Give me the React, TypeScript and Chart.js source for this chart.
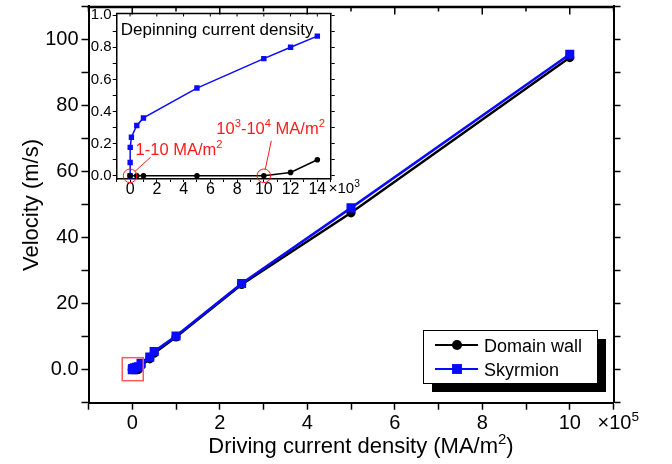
import { useEffect, useRef } from "react";
import { Chart, registerables } from "chart.js";
Chart.register(...registerables);

// ---- Main chart data (x in units of 10^5 MA/m^2, y in m/s)
const mainDwX = [0, 0.05, 0.1, 0.12, 0.14, 0.2, 0.4, 0.5, 1, 2.5, 5, 10];
const mainDwY = [0, 0, 0, 0.02, 0.1, 1.2, 3.3, 5.0, 9.9, 25.8, 47.5, 94.5];
const mainSkX = [0, 0.01, 0.05, 0.1, 0.14, 0.2, 0.4, 0.5, 1, 2.5, 5, 10];
const mainSkY = [0, 0.36, 0.55, 0.73, 0.87, 1.9, 3.8, 5.5, 10.2, 26.1, 49, 95.5];

// ---- Inset data (x in units of 10^3 MA/m^2, y in m/s)
const insetDwX = [0.001, 0.5, 1, 5, 10, 12, 14];
const insetDwY = [0, 0, 0, 0, 0, 0.021, 0.1];
const insetSkX = [0.001, 0.005, 0.01, 0.1, 0.5, 1, 5, 10, 12, 14];
const insetSkY = [0, 0.083, 0.177, 0.24, 0.313, 0.36, 0.546, 0.729, 0.8, 0.869];

const seriesNames = ["Domain wall", "Skyrmion"];
const mainXTickLabels = ["0", "2", "4", "6", "8", "10"];
const mainYTickLabels = ["0.0", "20", "40", "60", "80", "100"];
const insetXTickLabels = ["0", "2", "4", "6", "8", "10", "12", "14"];
const insetYTickLabels = ["0.0", "0.2", "0.4", "0.6", "0.8", "1.0"];

const FONT = "'Liberation Sans', Arial, Helvetica, sans-serif";
const BLUE = "#0a0aff";
const RED = "#ff1a1a";

type Part = { t: string; sup?: boolean };
function drawRich(ctx: CanvasRenderingContext2D, parts: Part[], x: number, y: number, size: number, align: "left" | "center", color: string) {
  ctx.save();
  ctx.fillStyle = color;
  ctx.textBaseline = "alphabetic";
  ctx.textAlign = "left";
  const widths = parts.map((p) => {
    ctx.font = `${p.sup ? size * 0.68 : size}px ${FONT}`;
    return ctx.measureText(p.t).width;
  });
  const total = widths.reduce((a, b) => a + b, 0);
  let cx = align === "center" ? x - total / 2 : x;
  parts.forEach((p, i) => {
    ctx.font = `${p.sup ? size * 0.68 : size}px ${FONT}`;
    ctx.fillText(p.t, cx, p.sup ? y - size * 0.4 : y);
    cx += widths[i];
  });
  ctx.restore();
}

function pts(xs: number[], ys: number[]) {
  return xs.map((x, i) => ({ x, y: ys[i] }));
}

const near = (v: number, step: number) => Math.abs(v / step - Math.round(v / step)) < 1e-6;

function fixV(width: number) {
  return (s: any) => {
    s.width = width;
    s.paddingTop = 0;
    s.paddingBottom = 0;
  };
}
function fixH(height: number) {
  return (s: any) => {
    s.height = height;
    s.paddingLeft = 0;
    s.paddingRight = 0;
  };
}

export default function App() {
  const mainRef = useRef<HTMLCanvasElement>(null);
  const insetRef = useRef<HTMLCanvasElement>(null);

  useEffect(() => {
    document.body.style.margin = "0";
    document.body.style.overflow = "hidden";
    Chart.defaults.font.family = FONT;
    Chart.defaults.color = "#000";

    const mainDecor = {
      id: "mainDecor",
      afterDatasetsDraw(chart: any) {
        const { ctx, scales } = chart;
        const cx = scales.x.getPixelForValue(0);
        const cy = scales.y.getPixelForValue(0);
        ctx.save();
        ctx.strokeStyle = "#ff5a5a";
        ctx.lineWidth = 1.5;
        ctx.strokeRect(cx - 10, cy - 12, 21, 23);
        ctx.restore();
      },
      afterDraw(chart: any) {
        const { ctx, chartArea: a, scales } = chart;
        const xs = scales.x;
        ctx.save();
        ctx.strokeStyle = "#000";
        ctx.lineWidth = 2.5;
        ctx.beginPath();
        ctx.moveTo(a.left - 1, a.top + 0.5);
        ctx.lineTo(a.right + 1, a.top + 0.5);
        ctx.stroke();
        ctx.lineWidth = 1.5;
        ctx.beginPath();
        xs.ticks.forEach((t: any) => {
          const px = xs.getPixelForValue(t.value);
          const len = near(t.value, 2) ? 8 : 5;
          ctx.moveTo(px, a.top);
          ctx.lineTo(px, a.top + len);
        });
        ctx.stroke();

        // axis titles
        drawRich(ctx, [{ t: "Driving current density (MA/m" }, { t: "2", sup: true }, { t: ")" }], 361, 453, 22, "center", "#000");
        ctx.save();
        ctx.translate(37.5, 205);
        ctx.rotate(-Math.PI / 2);
        drawRich(ctx, [{ t: "Velocity (m/s)" }], 0, 0, 22, "center", "#000");
        ctx.restore();
        // x10^5
        drawRich(ctx, [{ t: "\u00d710" }, { t: "5", sup: true }], a.right - 16, 429, 20, "left", "#000");

        // legend
        const lx = 423, ly = 330, lw = 174, lh = 53;
        ctx.fillStyle = "#000";
        ctx.fillRect(lx + 9, ly + 9, lw, lh);
        ctx.fillStyle = "#fff";
        ctx.fillRect(lx, ly, lw, lh);
        ctx.strokeStyle = "#000";
        ctx.lineWidth = 1;
        ctx.strokeRect(lx + 0.5, ly + 0.5, lw, lh);
        const rows = [
          { y: ly + 15, color: "#000", style: "circle", r: 5 },
          { y: ly + 39, color: BLUE, style: "rect", r: 7 },
        ];
        rows.forEach((r, i) => {
          ctx.strokeStyle = r.color;
          ctx.lineWidth = 1.8;
          ctx.beginPath();
          ctx.moveTo(lx + 12, r.y);
          ctx.lineTo(lx + 55, r.y);
          ctx.stroke();
          ctx.fillStyle = r.color;
          if (r.style === "circle") {
            ctx.beginPath();
            ctx.arc(lx + 34, r.y, r.r, 0, Math.PI * 2);
            ctx.fill();
          } else {
            const s = r.r * Math.SQRT1_2;
            ctx.fillRect(lx + 34 - s, r.y - s, 2 * s, 2 * s);
          }
          drawRich(ctx, [{ t: seriesNames[i] }], lx + 61, r.y + 6.5, 18, "left", "#000");
        });
        ctx.restore();
      },
    };

    const mainChart = new Chart(mainRef.current!, {
      type: "line",
      data: {
        datasets: [
          {
            label: seriesNames[0],
            data: pts(mainDwX, mainDwY),
            borderColor: "#000",
            backgroundColor: "#000",
            borderWidth: 2.5,
            pointStyle: "circle",
            pointRadius: 4.6,
            pointBorderWidth: 0,
            order: 1,
          },
          {
            label: seriesNames[1],
            data: pts(mainSkX, mainSkY),
            borderColor: BLUE,
            backgroundColor: BLUE,
            borderWidth: 2.5,
            pointStyle: "rect",
            pointRadius: 6.4,
            pointBorderWidth: 0,
            order: 0,
          },
        ],
      },
      options: {
        responsive: false,
        animation: false,
        events: [],
        layout: { padding: 0 },
        plugins: { legend: { display: false }, tooltip: { enabled: false } },
        scales: {
          x: {
            type: "linear",
            position: "bottom",
            min: -1,
            max: 11,
            border: { color: "#000", width: 2 },
            grid: { drawOnChartArea: false, tickLength: 7, tickWidth: 1.5, tickColor: "#000" },
            ticks: {
              stepSize: 1,
              autoSkip: false,
              maxRotation: 0,
              padding: 2,
              font: { size: 20 },
              callback: (v: any) => {
                const i = mainXTickLabels.indexOf(String(v));
                return i >= 0 ? mainXTickLabels[i] : "";
              },
            },
            afterFit: fixH(61.3),
          },
          y: {
            type: "linear",
            position: "left",
            min: -10,
            max: 110,
            border: { color: "#000", width: 2 },
            grid: { drawOnChartArea: false, tickLength: 7, tickWidth: 1.5, tickColor: "#000" },
            ticks: {
              stepSize: 10,
              autoSkip: false,
              padding: 3,
              font: { size: 20 },
              callback: (v: any) => {
                if (v < 0 || v > 100 || !near(v, 20)) return "";
                return mainYTickLabels[Math.round(v / 20)];
              },
            },
            afterFit: fixV(88.5),
          },
          y2: {
            type: "linear",
            position: "right",
            min: -10,
            max: 110,
            border: { color: "#000", width: 2 },
            grid: { drawOnChartArea: false, tickLength: 7, tickWidth: 1.5, tickColor: "#000" },
            ticks: { stepSize: 10, autoSkip: false, callback: () => "" },
            afterFit: fixV(672 - 613.5),
          },
        },
      },
      plugins: [mainDecor],
    } as any);

    const insetDecor = {
      id: "insetDecor",
      afterDraw(chart: any) {
        const { ctx, chartArea: a, scales } = chart;
        const xs = scales.x;
        const ys = scales.y;
        ctx.save();
        ctx.strokeStyle = "#000";
        ctx.lineWidth = 1.5;
        ctx.beginPath();
        ctx.moveTo(a.left - 0.75, a.top);
        ctx.lineTo(a.right + 0.75, a.top);
        ctx.stroke();
        ctx.lineWidth = 1;
        ctx.beginPath();
        xs.ticks.forEach((t: any) => {
          if (t.value < 0 || t.value > 14 || !near(t.value, 2)) return;
          const px = xs.getPixelForValue(t.value);
          ctx.moveTo(px, a.top);
          ctx.lineTo(px, a.top + 3);
        });
        ctx.stroke();

        drawRich(ctx, [{ t: "Depinning current density" }], a.left + 4, a.top + 21, 17, "left", "#000");
        drawRich(ctx, [{ t: "\u00d710" }, { t: "3", sup: true }], a.right - 2, a.bottom + 13.5, 15, "left", "#000");

        // annotations
        const c1x = xs.getPixelForValue(0), c1y = ys.getPixelForValue(0);
        const c2x = xs.getPixelForValue(10), c2y = ys.getPixelForValue(0);
        ctx.strokeStyle = RED;
        ctx.lineWidth = 1;
        ctx.beginPath();
        ctx.arc(c1x, c1y, 6.8, 0, Math.PI * 2);
        ctx.stroke();
        ctx.beginPath();
        ctx.arc(c2x, c2y, 6.8, 0, Math.PI * 2);
        ctx.stroke();
        ctx.beginPath();
        ctx.moveTo(c1x + 5, c1y - 4.5);
        ctx.lineTo(c1x + 20.5, c1y - 18.5);
        ctx.moveTo(c2x + 1.5, c2y - 6.7);
        ctx.lineTo(c2x + 7.5, c2y - 35);
        ctx.stroke();
        drawRich(ctx, [{ t: "1-10 MA/m" }, { t: "2", sup: true }], c1x + 5.5, c1y - 21, 16.5, "left", RED);
        drawRich(ctx, [{ t: "10" }, { t: "3", sup: true }, { t: "-10" }, { t: "4", sup: true }, { t: " MA/m" }, { t: "2", sup: true }], c2x - 47.5, c2y - 42, 16.5, "left", RED);
        ctx.restore();
      },
    };

    const insetChart = new Chart(insetRef.current!, {
      type: "line",
      data: {
        datasets: [
          {
            label: seriesNames[0],
            data: pts(insetDwX, insetDwY),
            borderColor: "#000",
            backgroundColor: "#000",
            borderWidth: 1.5,
            pointStyle: "circle",
            pointRadius: 2.8,
            pointBorderWidth: 0,
            order: 0,
          },
          {
            label: seriesNames[1],
            data: pts(insetSkX, insetSkY),
            borderColor: BLUE,
            backgroundColor: BLUE,
            borderWidth: 1.5,
            pointStyle: "rect",
            pointRadius: 3.8,
            pointBorderWidth: 0,
            order: 1,
          },
        ],
      },
      options: {
        responsive: false,
        animation: false,
        events: [],
        layout: { padding: { top: 13.5, left: 0, right: 0, bottom: 0 } },
        plugins: { legend: { display: false }, tooltip: { enabled: false } },
        scales: {
          x: {
            type: "linear",
            position: "bottom",
            min: -1,
            max: 15,
            border: { color: "#000", width: 1.5 },
            grid: { drawOnChartArea: false, tickLength: 3, tickWidth: 1, tickColor: "#000" },
            ticks: {
              stepSize: 1,
              autoSkip: false,
              maxRotation: 0,
              padding: -2,
              includeBounds: false,
              font: { size: 16 },
              callback: (v: any) => {
                const i = insetXTickLabels.indexOf(String(v));
                return i >= 0 ? insetXTickLabels[i] : "";
              },
            },
            afterFit: fixH(200 - 179),
          },
          y: {
            type: "linear",
            position: "left",
            min: -0.02,
            max: 1.01,
            border: { color: "#000", width: 1.5 },
            grid: { drawOnChartArea: false, tickLength: 4, tickWidth: 1, tickColor: "#000" },
            ticks: {
              stepSize: 0.1,
              autoSkip: false,
              padding: 1,
              includeBounds: false,
              font: { size: 15 },
              callback: (v: any) => {
                if (v < -1e-9 || v > 1 + 1e-9 || !near(v, 0.2)) return "";
                return insetYTickLabels[Math.round(v / 0.2)];
              },
            },
            afterFit: fixV(36.7),
          },
          y2: {
            type: "linear",
            position: "right",
            min: -0.02,
            max: 1.01,
            border: { color: "#000", width: 1.5 },
            grid: { drawOnChartArea: false, tickLength: 4, tickWidth: 1, tickColor: "#000" },
            ticks: { stepSize: 0.1, autoSkip: false, includeBounds: false, callback: () => "" },
            afterFit: fixV(300 - 250.7),
          },
        },
      },
      plugins: [insetDecor],
    } as any);

    return () => {
      mainChart.destroy();
      insetChart.destroy();
    };
  }, []);

  return (
    <div style={{ position: "relative", width: 672, height: 464, background: "#fff" }}>
      <canvas ref={mainRef} width={672} height={464} style={{ position: "absolute", left: 0, top: 0 }} />
      <canvas ref={insetRef} width={300} height={200} style={{ position: "absolute", left: 80, top: 0 }} />
    </div>
  );
}
